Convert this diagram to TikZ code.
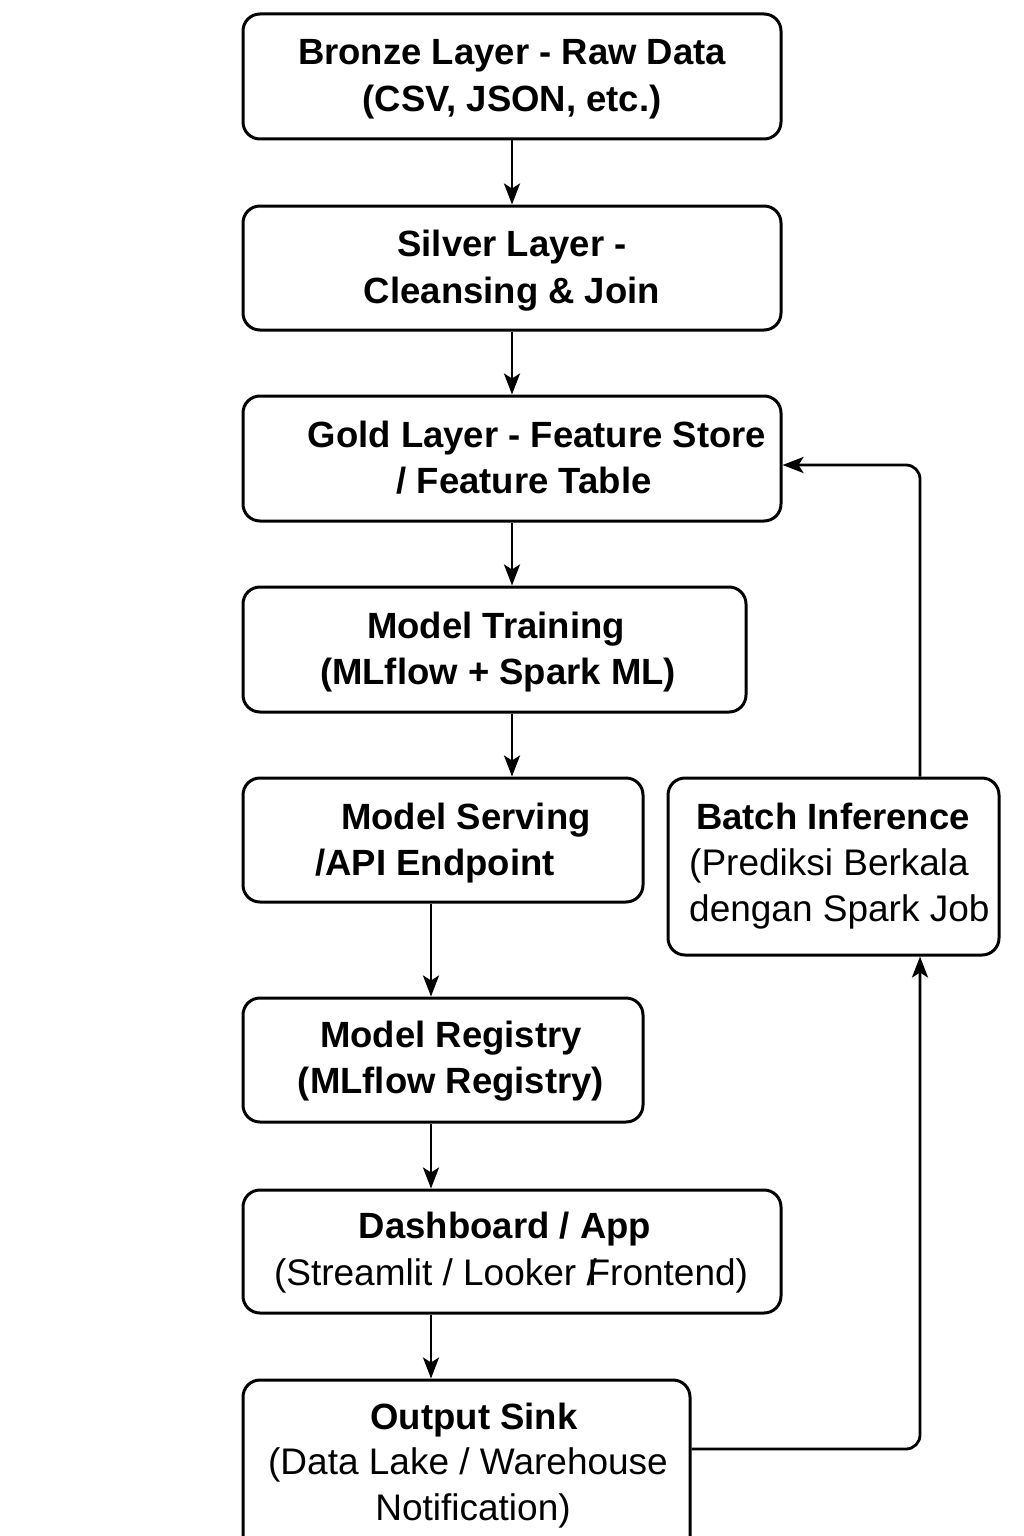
\documentclass[tikz,border=0pt]{standalone}
\usepackage{fontspec}
\setmainfont{Liberation Sans}
\usetikzlibrary{arrows.meta}
\begin{document}
\begin{tikzpicture}[x=1pt,y=-1pt,
  box/.style={draw=black, line width=3pt, rounded corners=17pt, fill=white, inner sep=0pt},
  txt/.style={inner sep=0pt, anchor=base, font=\fontsize{37}{47}\selectfont},
  btxt/.style={txt, font=\fontsize{36.5}{47}\selectfont\bfseries},
  arr/.style={draw=black, line width=2.8pt, -{Stealth[length=21pt,width=16pt,inset=5pt]}}]
\clip (0,0) rectangle (1024,1536);
\fill[white] (0,0) rectangle (1024,1536);
% boxes
\node[box, minimum width=538pt, minimum height=125pt] (bronze) at (512,76.5) {};
\node[box, minimum width=538pt, minimum height=124pt] (silver) at (512,268) {};
\node[box, minimum width=538pt, minimum height=125pt] (gold) at (512,458.5) {};
\node[box, minimum width=503pt, minimum height=125pt] (training) at (494.5,649.5) {};
\node[box, minimum width=400pt, minimum height=124pt] (serving) at (443,840) {};
\node[box, minimum width=331pt, minimum height=177pt] (batch) at (833.5,866.5) {};
\node[box, minimum width=400pt, minimum height=124pt] (registry) at (443,1060) {};
\node[box, minimum width=538pt, minimum height=123pt] (dashboard) at (512,1251.5) {};
\node[box, minimum width=447pt, minimum height=190pt] (output) at (466.5,1475) {};
% texts
\node[btxt] (t1a) at (512,65) {Bronze Layer - Raw Data};
\node[btxt] (t1b) at (512,112) {(CSV, JSON, etc.)};
\node[btxt] (t2a) at (512,256) {Silver Layer -};
\node[btxt] (t2b) at (512,303) {Cleansing \& Join};
\node[btxt] (t3a) at (537,447) {Gold Layer - Feature Store};
\node[btxt] (t3b) at (524,493) {/ Feature Table};
\node[btxt] (t4a) at (496,638) {Model Training};
\node[btxt] (t4b) at (498,684) {(MLflow + Spark ML)};
\node[btxt] (t5a) at (466,829) {Model Serving};
\node[btxt] (t5b) at (435,875) {/API Endpoint};
\node[btxt] (t6a) at (833,829) {Batch Inference};
\node[txt, anchor=base west] (t6b) at (689,875) {(Prediksi Berkala};
\node[txt, anchor=base west] (t6c) at (689,921) {dengan Spark Job};
\node[btxt] (t7a) at (451,1047) {Model Registry};
\node[btxt] (t7b) at (451,1093) {(MLflow Registry)};
\node[btxt] (t8a) at (505,1238) {Dashboard / App};
\node[txt] (t8b) at (511,1285) {(Streamlit / Looker /\kern-0.25em Frontend)};
\node[btxt] (t9a) at (474,1429) {Output Sink};
\node[txt] (t9b) at (468,1474) {(Data Lake / Warehouse};
\node[txt] (t9c) at (473,1520) {Notification)};
% helper coordinates
\coordinate (cx) at (431,0);
\coordinate (fb) at (920,1449);
\coordinate (gb) at (920,465);
% connectors
\draw[arr] (bronze) -- (silver);
\draw[arr] (silver) -- (gold);
\draw[arr] (gold.south) -- (gold.south |- training.north);
\draw[arr] (gold.south |- training.south) -- (gold.south |- serving.north);
\draw[arr] (cx |- serving.south) -- (cx |- registry.north);
\draw[arr] (cx |- registry.south) -- (cx |- dashboard.north);
\draw[arr] (cx |- dashboard.south) -- (cx |- output.north);
\draw[arr, rounded corners=14pt] (fb -| output.east) -- (fb) -- (fb |- batch.south);
\draw[arr, rounded corners=14pt] (gb |- batch.north) -- (gb) -- (gb -| gold.east);
\end{tikzpicture}
\end{document}
